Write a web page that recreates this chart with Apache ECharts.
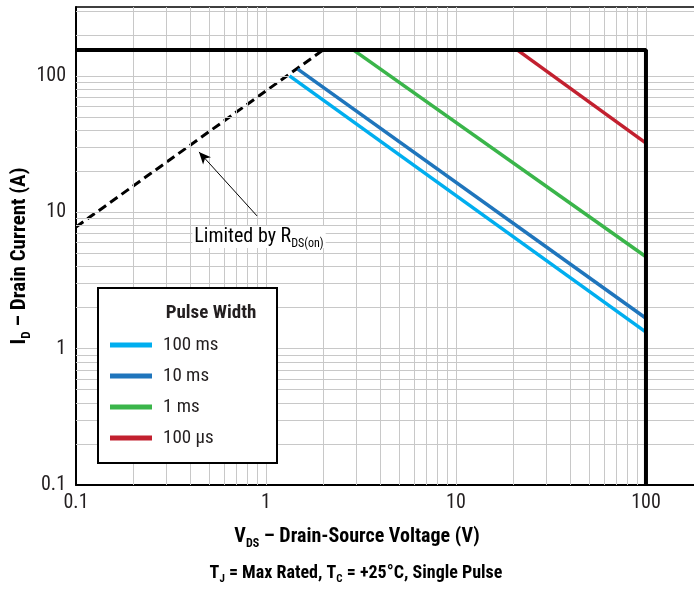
<!DOCTYPE html>
<html>
<head>
<meta charset="utf-8">
<script src="https://cdn.jsdelivr.net/npm/echarts@6/dist/echarts.min.js"></script>
<style>
html,body{margin:0;padding:0;background:#fff;}
#chart{width:694px;height:589px;}
</style>
</head>
<body>
<div id="chart"></div>
<script>
// ---- data ----
const xTickLabels = ['0.1', '1', '10', '100'];
const yTickLabels = ['0.1', '1', '10', '100'];
const seriesNames = ['100 ms', '10 ms', '1 ms', '100 µs'];
const seriesColors = ['#00aeef', '#1f75bc', '#3ab54a', '#c2202f'];

const rdsLimitV = [0.1, 2.0];
const rdsLimitI = [7.8, 155];
const currentLimitV = [0.1, 100, 100];
const currentLimitI = [155, 155, 0.1];

const pulse100msV = [1.33, 100];
const pulse100msI = [100, 1.32];
const pulse10msV = [1.47, 100];
const pulse10msI = [112, 1.67];
const pulse1msV = [2.88, 100];
const pulse1msI = [155, 4.72];
const pulse100usV = [21, 100];
const pulse100usI = [155, 32.1];

const annotationFrom = [0.897, 9.4];
const annotationTo = [0.444, 27.7];

const xMin = 0.1, xMax = 179;
const yMin = 0.1, yMax = 320;

// grid line positions (1..9 x each decade)
const mult = [1, 2, 3, 4, 5, 6, 7, 8, 9];
const decades = [0.1, 1, 10, 100];
const xGrid = [], yGrid = [];
decades.forEach(d => mult.forEach(m => {
  const v = +(d * m).toPrecision(6);
  if (v > xMin && v <= xMax) xGrid.push(v);
  if (v > yMin && v <= yMax) yGrid.push(v);
}));

const zip = (a, b) => a.map((v, i) => [v, b[i]]);

const FONT = "'Roboto Condensed', 'Roboto', sans-serif";
const TXT = '#231f20';

function decadeLabel(labels) {
  return function (v) {
    const l = Math.log10(v);
    const r = Math.round(l);
    if (Math.abs(l - r) > 1e-6) return '';
    return labels[r + 1] || '';
  };
}

function richStyle(weight, size) {
  return {
    b: {fontSize: size, fontWeight: weight, fontFamily: FONT, color: TXT, verticalAlign: 'bottom'},
    s: {fontSize: Math.round(size * 0.6), fontWeight: weight, fontFamily: FONT, color: TXT, verticalAlign: 'bottom', padding: [0, 0, -3, 0]}
  };
}

const chart = echarts.init(document.getElementById('chart'), null, {renderer: 'canvas'});

const pulseSeries = [
  [pulse100msV, pulse100msI],
  [pulse10msV, pulse10msI],
  [pulse1msV, pulse1msI],
  [pulse100usV, pulse100usI]
].map((p, i) => ({
  name: seriesNames[i],
  type: 'line',
  data: zip(p[0], p[1]),
  symbol: 'none',
  z: 5,
  lineStyle: {color: seriesColors[i], width: 3.5},
  itemStyle: {color: seriesColors[i]},
  animation: false
}));

chart.setOption({
  backgroundColor: '#fff',
  animation: false,
  textStyle: {fontFamily: FONT},
  grid: {left: 76, top: 7, width: 618, height: 478, containLabel: false},
  xAxis: [{
    type: 'log', logBase: 10, min: xMin, max: xMax,
    axisLine: {show: true, onZero: false, lineStyle: {color: '#000', width: 2}},
    axisTick: {show: false},
    splitLine: {show: false},
    axisLabel: {formatter: decadeLabel(xTickLabels), fontSize: 20, color: TXT, margin: 8, fontFamily: FONT, showMaxLabel: false}
  }, {
    type: 'log', logBase: 10, min: xMin, max: xMax, position: 'top',
    axisLine: {show: true, lineStyle: {color: '#000', width: 1.5}},
    axisTick: {show: false}, splitLine: {show: false}, axisLabel: {show: false}
  }],
  yAxis: {
    type: 'log', logBase: 10, min: yMin, max: yMax,
    axisLine: {show: true, onZero: false, lineStyle: {color: '#000', width: 2}},
    axisTick: {show: false},
    splitLine: {show: false},
    axisLabel: {formatter: decadeLabel(yTickLabels), fontSize: 20, color: TXT, margin: 10, fontFamily: FONT, showMaxLabel: false}
  },
  legend: {
    data: seriesNames,
    orient: 'vertical',
    left: 110, top: 335,
    padding: 0,
    itemWidth: 42, itemHeight: 5,
    itemGap: 11,
    icon: 'rect',
    z: 60,
    selectedMode: false,
    textStyle: {fontSize: 19, color: TXT, fontFamily: FONT, lineHeight: 20, padding: [0, 0, 0, 6]}
  },
  series: [
    {
      type: 'line', data: [], z: 1, silent: true,
      markLine: {
        silent: true, symbol: ['none', 'none'], animation: false,
        label: {show: false},
        lineStyle: {color: '#c8c8c8', width: 1, type: 'solid'},
        data: xGrid.map(v => ({xAxis: v})).concat(yGrid.map(v => ({yAxis: v})))
      }
    },
    {
      name: 'RDS(on) limit', type: 'line', data: zip(rdsLimitV, rdsLimitI), symbol: 'none', z: 4,
      lineStyle: {color: '#000', width: 3, type: [9, 5]},
      markLine: {
        silent: true, symbol: ['none', 'arrow'], symbolSize: [8, 12], animation: false,
        label: {show: false},
        lineStyle: {color: '#000', width: 1, type: 'solid'},
        data: [[{coord: annotationFrom}, {coord: annotationTo}]]
      }
    },
    {
      name: 'Current limit', type: 'line', data: zip(currentLimitV, currentLimitI), symbol: 'none', z: 6,
      lineStyle: {color: '#000', width: 4}
    }
  ].concat(pulseSeries),
  graphic: [
    {type: 'rect', z: 50, shape: {x: 98, y: 288, width: 179, height: 175},
     style: {fill: '#fff', stroke: '#000', lineWidth: 2}},
    {type: 'text', z: 51, x: 211, y: 313,
     style: {text: 'Pulse Width', font: 'bold 19px ' + FONT, fill: TXT, textAlign: 'center', textVerticalAlign: 'middle'}},
    {type: 'text', z: 51, x: 259, y: 237,
     style: {
       text: '{b|Limited by R}{s|DS(on)}',
       textAlign: 'center', textVerticalAlign: 'middle',
       backgroundColor: '#fff', padding: [1, 2, 1, 2],
       rich: richStyle('normal', 20)
     }},
    {type: 'text', z: 51, x: 20, y: 256, rotation: Math.PI / 2,
     style: {
       text: '{b|I}{s|D}{b| – Drain Current (A)}',
       textAlign: 'center', textVerticalAlign: 'middle',
       rich: richStyle('bold', 21)
     }},
    {type: 'text', z: 51, x: 357, y: 537,
     style: {
       text: '{b|V}{s|DS}{b| – Drain-Source Voltage (V)}',
       textAlign: 'center', textVerticalAlign: 'middle',
       rich: richStyle('bold', 20)
     }},
    {type: 'text', z: 51, x: 356, y: 573,
     style: {
       text: '{b|T}{s|J}{b| = Max Rated, T}{s|C}{b| = +25°C, Single Pulse}',
       textAlign: 'center', textVerticalAlign: 'middle',
       rich: richStyle('bold', 18)
     }}
  ]
});
</script>
</body>
</html>
